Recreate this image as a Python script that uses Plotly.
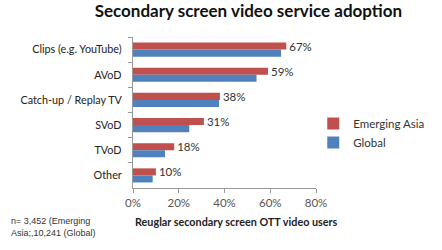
import plotly.graph_objects as go

categories = ["Clips (e.g. YouTube)", "AVoD", "Catch-up / Replay TV", "SVoD", "TVoD", "Other"]
emerging_asia = [67, 59, 38, 31, 18, 10]
global_vals = [64.7, 54, 37.6, 24.6, 14, 8.6]
x_ticks = [0, 20, 40, 60, 80]
x_tick_labels = ["0%", "20%", "40%", "60%", "80%"]

FONT = "Lato, Open Sans, sans-serif"
RED = "#C0504D"
BLUE = "#4F81BD"

fig = go.Figure()
fig.add_trace(go.Bar(
    y=categories, x=emerging_asia, orientation="h", name="Emerging Asia",
    marker=dict(color=RED, line=dict(width=0)),
    text=[f"{v}%" for v in emerging_asia], textposition="outside", constraintext="none",
    textfont=dict(family=FONT, size=11.5, color="#333333"), cliponaxis=False,
))
fig.add_trace(go.Bar(
    y=categories, x=global_vals, orientation="h", name="Global",
    marker=dict(color=BLUE, line=dict(width=0)),
))

fig.update_layout(
    width=442, height=250,
    margin=dict(l=133, r=124, t=37, b=62),
    paper_bgcolor="white", plot_bgcolor="white",
    barmode="group", bargap=0.44, bargroupgap=0,
    showlegend=True,
    legend=dict(x=0.985, y=0.365, xanchor="left", yanchor="middle",
                font=dict(family=FONT, size=11.5, color="#333333"),
                itemwidth=30, tracegroupgap=0, bgcolor="rgba(0,0,0,0)"),
    title=dict(text="<b>Secondary screen video service adoption</b>",
               x=0.562, xanchor="center", y=0.955, yanchor="middle",
               font=dict(family=FONT, size=17, color="#111111")),
    xaxis=dict(range=[0, 80], tickvals=x_ticks, ticktext=x_tick_labels,
               showgrid=False, zeroline=False, showline=True, linecolor="#999999",
               ticks="outside", ticklen=4, tickcolor="#999999",
               tickfont=dict(family=FONT, size=11.5, color="#555555")),
    yaxis=dict(autorange="reversed", showgrid=False, showline=True, linecolor="#999999",
               ticks="outside", tickson="boundaries", ticklen=4, tickcolor="#999999",
               tickfont=dict(family=FONT, size=10.8, color="#222222"), ticksuffix="   "),
    font=dict(family=FONT),
)

fig.add_annotation(text="<b>Reuglar secondary screen OTT video users</b>",
                   xref="paper", yref="paper", x=0.565, y=-0.22, xanchor="center", yanchor="middle",
                   showarrow=False, font=dict(family=FONT, size=10.8, color="#222222"))
fig.add_annotation(text="n= 3,452 (Emerging",
                   xref="paper", yref="paper", x=-0.676, y=-0.218, xanchor="left", yanchor="middle",
                   align="left", showarrow=False,
                   font=dict(family="Liberation Sans, Arial, sans-serif", size=9, color="#333333"))
fig.add_annotation(text="Asia;,10,241 (Global)",
                   xref="paper", yref="paper", x=-0.676, y=-0.298, xanchor="left", yanchor="middle",
                   align="left", showarrow=False,
                   font=dict(family="Liberation Sans, Arial, sans-serif", size=9, color="#333333"))

fig.write_html("out.html")
